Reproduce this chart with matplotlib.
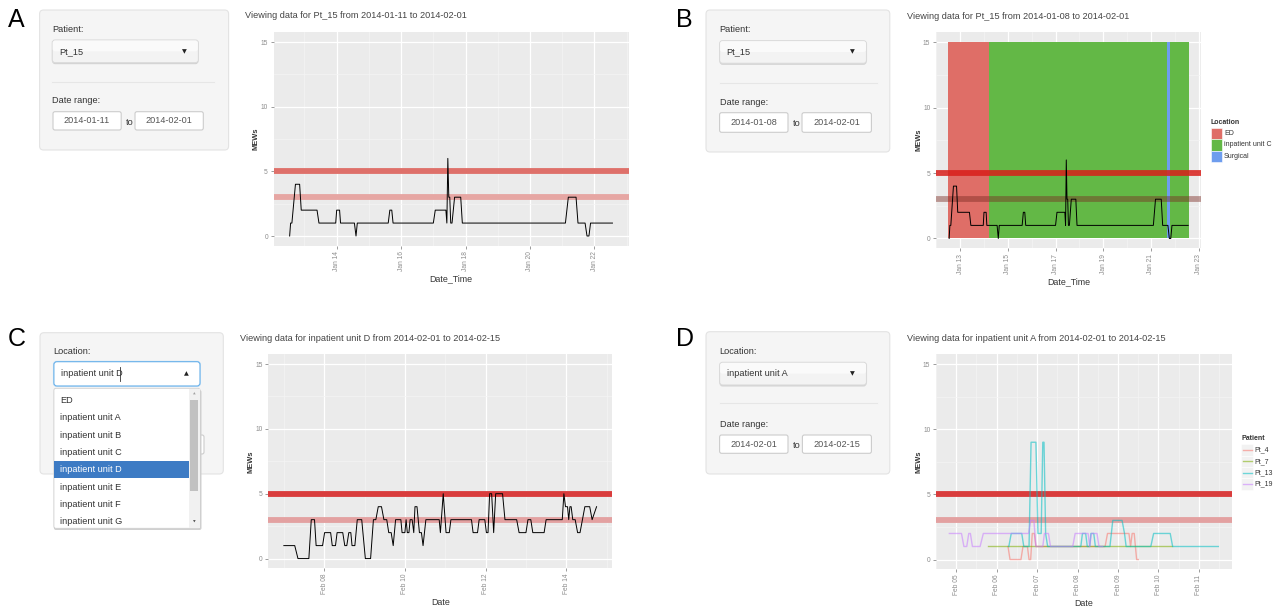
import datetime as dt
import matplotlib
matplotlib.use("Agg")
import matplotlib.pyplot as plt
from matplotlib.patches import FancyBboxPatch, Rectangle

plt.rcParams["font.family"] = ["Liberation Sans", "DejaVu Sans"]

W, H = 1279, 609

# ---- data ----
# Pt_15: time as fractional day of January 2014, MEWs score
pt15_day = [12.54, 12.57, 12.61, 12.72, 12.85, 12.90, 13.39, 13.45, 13.97, 14.00,
            14.09, 14.12, 14.55, 14.60, 14.64, 15.60, 15.65, 15.71, 15.75, 17.00,
            17.06, 17.39, 17.42, 17.45, 17.48, 17.51, 17.54, 17.58, 17.66, 17.85,
            17.90, 21.10, 21.19, 21.43, 21.49, 21.71, 21.77, 21.83, 21.88, 22.56]
pt15_mews = [0, 1, 1, 4, 4, 2, 2, 1, 1, 2,
             2, 1, 1, 0, 1, 1, 2, 2, 1, 1,
             2, 2, 1, 6, 3, 3, 1, 1, 3, 3,
             1, 1, 3, 3, 1, 1, 0, 0, 1, 1]

# Pt_15 locations (panel B)
loc_names = ["ED", "inpatient unit C", "Surgical"]
loc_colors = ["#DF6E67", "#63B846", "#6E9DEE"]
stay_loc = ["ED", "inpatient unit C", "Surgical", "inpatient unit C"]
stay_start = [12.49, 14.23, 21.69, 21.80]
stay_end = [14.23, 21.69, 21.80, 22.60]

# inpatient unit D: fractional day of February 2014
unitD_day = [7.00, 7.27, 7.35, 7.62, 7.68, 7.76, 7.80, 7.96, 8.01, 8.16,
             8.20, 8.28, 8.32, 8.46, 8.51, 8.56, 8.61, 8.66, 8.69, 8.76,
             8.82, 8.93, 9.02, 9.15, 9.22, 9.28, 9.34, 9.42, 9.48, 9.55,
             9.60, 9.66, 9.71, 9.77, 9.90, 9.93, 10.00, 10.03, 10.06, 10.10,
             10.13, 10.18, 10.22, 10.25, 10.30, 10.36, 10.41, 10.45, 10.52, 10.85,
             10.88, 10.95, 11.02, 11.10, 11.14, 11.65, 11.69, 11.80, 11.84, 11.98,
             12.02, 12.06, 12.10, 12.15, 12.20, 12.25, 12.42, 12.48, 12.77, 12.83,
             13.00, 13.05, 13.12, 13.17, 13.45, 13.50, 13.90, 13.94, 13.98, 14.03,
             14.06, 14.09, 14.12, 14.16, 14.22, 14.28, 14.34, 14.40, 14.46, 14.58,
             14.64, 14.75]
unitD_mews = [1, 1, 0, 0, 3, 3, 1, 1, 2, 2,
              1, 1, 2, 2, 1, 1, 2, 2, 1, 1,
              3, 3, 0, 0, 3, 3, 4, 4, 3, 3,
              2, 2, 1, 3, 3, 2, 2, 3, 2, 2,
              3, 3, 2, 4, 4, 2, 2, 1, 3, 3,
              2, 5, 2, 2, 3, 3, 2, 2, 3, 3,
              2, 2, 5, 5, 2, 5, 5, 3, 3, 2,
              2, 3, 3, 2, 2, 3, 3, 5, 4, 4,
              3, 4, 4, 3, 3, 2, 2, 3, 4, 4,
              3, 4]

# inpatient unit A patients (February 2014)
pt4_day = [6.28, 6.33, 6.60, 6.65, 6.76, 6.80, 6.84, 6.88, 6.93, 6.97,
           8.68, 8.74, 9.27, 9.31, 9.35, 9.40, 9.46, 9.50]
pt4_mews = [1, 0, 0, 1, 1, 0, 0, 2, 2, 1,
            1, 2, 2, 1, 2, 2, 0, 0]
pt7_day = [5.79, 10.33]
pt7_mews = [1, 1]
pt13_day = [6.30, 6.36, 6.62, 6.67, 6.80, 6.85, 6.97, 7.02, 7.10, 7.14,
            7.17, 7.21, 7.26, 8.08, 8.12, 8.20, 8.24, 8.30, 8.33, 8.40,
            8.44, 8.80, 8.87, 9.10, 9.16, 9.20, 9.81, 9.88, 10.29, 10.35, 11.48]
pt13_mews = [1, 2, 2, 1, 1, 9, 9, 2, 2, 9,
             9, 2, 1, 1, 2, 2, 1, 1, 2, 2,
             1, 1, 3, 3, 2, 1, 1, 2, 2, 1, 1]
pt19_day = [4.83, 5.13, 5.19, 5.26, 5.31, 5.35, 5.40, 5.59, 5.67, 6.79,
            6.84, 6.92, 6.97, 7.14, 7.18, 7.28, 7.33, 7.88, 7.94, 8.26,
            8.30, 8.34, 8.48, 8.53, 8.62]
pt19_mews = [2, 2, 1, 1, 2, 2, 1, 1, 2, 2,
             3, 3, 1, 1, 2, 2, 1, 1, 2, 2,
             1, 2, 2, 1, 1]
patient_names = ["Pt_4", "Pt_7", "Pt_13", "Pt_19"]
patient_colors = ["#F8766D", "#7CAE00", "#00BFC4", "#C77CFF"]

location_choices = ["ED", "inpatient unit A", "inpatient unit B", "inpatient unit C",
                    "inpatient unit D", "inpatient unit E", "inpatient unit F",
                    "inpatient unit G"]

a_ticks = ["Jan 14", "Jan 16", "Jan 18", "Jan 20", "Jan 22"]
b_ticks = ["Jan 13", "Jan 15", "Jan 17", "Jan 19", "Jan 21", "Jan 23"]
c_ticks = ["Feb 08", "Feb 10", "Feb 12", "Feb 14"]
d_ticks = ["Feb 05", "Feb 06", "Feb 07", "Feb 08", "Feb 09", "Feb 10", "Feb 11"]


def to_date(month, day):
    return dt.datetime(2014, month, 1) + dt.timedelta(days=day - 1)


def tick_dates(labels):
    return [dt.datetime.strptime("2014 " + s, "%Y %b %d") for s in labels]


fig = plt.figure(figsize=(W / 100, H / 100), dpi=100)
ui = fig.add_axes([0, 0, 1, 1], zorder=0)
ui.set_xlim(0, W)
ui.set_ylim(H, 0)
ui.axis("off")

TXT = "#333333"


def make_axes(box, month, lo, hi, labels):
    x0, y0, x1, y1 = box
    ax = fig.add_axes([x0 / W, 1 - y1 / H, (x1 - x0) / W, (y1 - y0) / H], zorder=1)
    ax.set_facecolor("#EBEBEB")
    for s in ax.spines.values():
        s.set_visible(False)
    ax.set_yticks([0, 5, 10, 15])
    ax.set_yticks([2.5, 7.5, 12.5], minor=True)
    ticks = tick_dates(labels)
    step = ticks[1] - ticks[0]
    ax.set_xticks(ticks)
    ax.set_xticklabels(labels, rotation=90, va="top", ha="center")
    ax.set_xticks([t - step / 2 for t in ticks] + [ticks[-1] + step / 2], minor=True)
    span = hi - lo
    ax.set_xlim(to_date(month, lo - 0.05 * span), to_date(month, hi + 0.05 * span))
    ax.set_ylim(-0.75, 15.75)
    ax.grid(which="major", color="white", lw=0.9)
    ax.grid(which="minor", color="#F4F4F4", lw=0.5)
    ax.set_axisbelow(True)
    ax.tick_params(which="major", length=2.5, width=0.6, color="#8C8C8C",
                   labelsize=4.8, labelcolor="#8C8C8C", pad=1.5)
    ax.tick_params(which="minor", length=0)
    return ax


def bands(ax, c5, c3, a5=1.0, a3=1.0):
    ax.axhline(5, color=c5, lw=4.2, alpha=a5, zorder=2)
    ax.axhline(3, color=c3, lw=4.2, alpha=a3, zorder=2)


def labels(title, tx, ty, xlab, xx, xy, yx, yy):
    ui.text(tx, ty, title, fontsize=6.6, color="#444444", ha="left", va="center")
    ui.text(xx, xy, xlab, fontsize=6.4, color=TXT, ha="center", va="center")
    ui.text(yx, yy, "MEWs", fontsize=5.4, color=TXT, ha="center", va="center",
            rotation=90, weight="bold")


# ---- UI widgets ----
def rbox(x0, y0, x1, y1, fc, ec, r=3, lw=0.8, z=1):
    ui.add_patch(FancyBboxPatch((x0, y0), x1 - x0, y1 - y0,
                                boxstyle=f"round,pad=0,rounding_size={r}",
                                fc=fc, ec=ec, lw=lw, zorder=z))


def select(x0, y0, x1, y1, text, arrow_x, up=False, focused=False, z=2):
    if focused:
        rbox(x0 - 1, y0 - 1, x1 + 1, y1 + 1, "#D6E8F7", "none", r=4, z=z)
        rbox(x0, y0, x1, y1, "white", "#66AFE9", r=3, z=z)
    else:
        rbox(x0, y0 + 1.5, x1, y1 + 1.5, "#D2D2D2", "none", r=3, z=z)
        rbox(x0, y0, x1, y1, "#F3F3F3", "#DADADA", r=3, z=z)
        rbox(x0 + 0.5, y0 + 0.5, x1 - 0.5, (y0 + y1) / 2, "#FAFAFA", "none", r=2.5, z=z)
    yc = (y0 + y1) / 2
    ui.text(x0 + 7, yc, text, fontsize=6.6, color=TXT, ha="left", va="center", zorder=z + 1)
    ui.text(arrow_x, yc, "\u25B2" if up else "\u25BC", fontsize=4.5, color="#222222",
            ha="center", va="center", zorder=z + 1, family="DejaVu Sans")


def datebox(x0, y0, x1, y1, text, z=2):
    rbox(x0, y0, x1, y1, "white", "#CCCCCC", r=2, z=z)
    ui.text((x0 + x1) / 2, (y0 + y1) / 2, text, fontsize=6.6, color="#555555",
            ha="center", va="center", zorder=z + 1)


def sidebar(x0, y0, x1, y1):
    rbox(x0, y0, x1, y1, "#F5F5F5", "#E3E3E3", r=4, z=1)


def panel_letter(x, y, s):
    ui.text(x, y, s, fontsize=18, color="black", ha="left", va="center")


def label(x, y, s, z=3):
    ui.text(x, y, s, fontsize=6.6, color=TXT, ha="left", va="center", zorder=z)


# Panel A
panel_letter(8, 20, "A")
sidebar(39.6, 10, 228.6, 150)
label(52.2, 29.3, "Patient:")
select(52.2, 40, 198.4, 62.7, "Pt_15", 184.5)
ui.plot([52, 214], [81.7, 81.7], color="#E6E6E6", lw=0.8, zorder=2)
label(52.2, 100.7, "Date range:")
datebox(53, 111.7, 121.2, 130, "2014-01-11")
label(125.5, 122.5, "to")
datebox(135, 111.7, 203.3, 130, "2014-02-01")

axA = make_axes((273.5, 32.3, 628.6, 245.7), 1, pt15_day[0], pt15_day[-1], a_ticks)
bands(axA, "#DE706A", "#E6A6A3")
axA.plot([to_date(1, d) for d in pt15_day], pt15_mews, color="black", lw=0.7, zorder=3)
labels("Viewing data for Pt_15 from 2014-01-11 to 2014-02-01", 245, 16,
       "Date_Time", 451, 278.5, 256, 139)

# Panel B
panel_letter(676, 20, "B")
sidebar(706, 10, 889.8, 152)
label(719.6, 30, "Patient:")
select(719.6, 40.7, 866.5, 63.3, "Pt_15", 852.7)
ui.plot([720, 876.7], [82.7, 82.7], color="#E6E6E6", lw=0.8, zorder=2)
label(719.6, 102.3, "Date range:")
datebox(719.6, 112.7, 788, 132.3, "2014-01-08")
label(792.5, 124, "to")
datebox(802, 112.7, 871.4, 132.3, "2014-02-01")

axB = make_axes((935.9, 32.3, 1201.2, 248.3), 1, min(stay_start), max(stay_end), b_ticks)
for loc, s, e in zip(stay_loc, stay_start, stay_end):
    col = loc_colors[loc_names.index(loc)]
    axB.fill_between([to_date(1, s), to_date(1, e)], 0, 15, color=col, lw=0, zorder=1)
bands(axB, "#D81E1A", "#7A2A22", a5=0.85, a3=0.45)
axB.plot([to_date(1, d) for d in pt15_day], pt15_mews, color="black", lw=0.7, zorder=3)
labels("Viewing data for Pt_15 from 2014-01-08 to 2014-02-01", 907.3, 16.7,
       "Date_Time", 1068.5, 281.7, 918.8, 140)
ui.text(1210.6, 122.7, "Location", fontsize=5, weight="bold", color=TXT, va="center")
for i, (n, c) in enumerate(zip(loc_names, loc_colors)):
    ui.add_patch(Rectangle((1210.6, 127.7 + i * 11.5), 11.4, 11.5, fc=c, ec="white", lw=0.4))
    ui.text(1224, 133.4 + i * 11.5, n, fontsize=5, color=TXT, va="center")

# Panel C
panel_letter(8, 339, "C")
sidebar(40, 332.7, 223.3, 474)
label(53, 351.7, "Location:")
datebox(135, 435, 204, 454, "2014-02-15", z=2)
select(53.9, 361.7, 200, 386, "inpatient unit D", 186.5, up=True, focused=True, z=4)
ui.plot([120.3, 120.3], [367, 381], color=TXT, lw=0.6, zorder=6)
rbox(53.9, 390, 201.5, 530, "#D0D0D0", "none", r=2, z=4)
rbox(53.9, 388.3, 200, 528.3, "white", "#CFCFCF", r=2, lw=0.6, z=5)
row_h = 17.37
for i, name in enumerate(location_choices):
    yc = 400.3 + i * row_h
    col = TXT
    if name == "inpatient unit D":
        ui.add_patch(Rectangle((54.2, yc - row_h / 2), 134.4, row_h, fc="#3D7BC4", ec="none", zorder=6))
        col = "white"
    ui.text(60.4, yc, name, fontsize=6.6, color=col, ha="left", va="center", zorder=7)
ui.add_patch(Rectangle((188.6, 388.8), 11, 139, fc="#F1F1F1", ec="none", zorder=6))
ui.add_patch(Rectangle((190.2, 400), 7.8, 90.7, fc="#C1C1C1", ec="none", zorder=7))
ui.text(194, 393.5, "\u25B2", fontsize=2.5, color="#A0A0A0", ha="center", va="center", zorder=7, family="DejaVu Sans")
ui.text(194, 522, "\u25BC", fontsize=2.5, color="#505050", ha="center", va="center", zorder=7, family="DejaVu Sans")

axC = make_axes((268.2, 354.3, 612.2, 568.3), 2, unitD_day[0], unitD_day[-1], c_ticks)
bands(axC, "#D93C3C", "#E3A1A1")
axC.plot([to_date(2, d) for d in unitD_day], unitD_mews, color="black", lw=0.7, zorder=3)
labels("Viewing data for inpatient unit D from 2014-02-01 to 2014-02-15", 240, 338.3,
       "Date", 440.2, 602.7, 251, 461.3)

# Panel D
panel_letter(676, 339, "D")
sidebar(706, 331.7, 889.8, 474)
label(719.6, 351.7, "Location:")
select(719.6, 362.3, 866.5, 385, "inpatient unit A", 852.7)
ui.plot([720, 876.7], [402.7, 402.7], color="#E6E6E6", lw=0.8, zorder=2)
label(719.6, 424.3, "Date range:")
datebox(719.6, 435, 788, 453.3, "2014-02-01")
label(792.5, 446, "to")
datebox(802.4, 435, 871.4, 453.3, "2014-02-15")

series = [(pt4_day, pt4_mews), (pt7_day, pt7_mews), (pt13_day, pt13_mews), (pt19_day, pt19_mews)]
all_days = [d for s in series for d in s[0]]
axD = make_axes((935.9, 354.3, 1231.8, 569.3), 2, min(all_days), max(all_days), d_ticks)
bands(axD, "#D93C3C", "#E3A1A1")
for (days, vals), c in zip(series, patient_colors):
    axD.plot([to_date(2, d) for d in days], vals, color=c, lw=1.0, alpha=0.55, zorder=3)
labels("Viewing data for inpatient unit A from 2014-02-01 to 2014-02-15", 907.3, 338.3,
       "Date", 1083.8, 603.3, 918.8, 461.8)
ui.text(1241.2, 438.3, "Patient", fontsize=5, weight="bold", color=TXT, va="center")
for i, (n, c) in enumerate(zip(patient_names, patient_colors)):
    yc = 450 + i * 11.3
    ui.add_patch(Rectangle((1241.2, yc - 5.65), 11.3, 11.3, fc="#F2F2F2", ec="white", lw=0.4))
    ui.plot([1242.5, 1251.5], [yc, yc], color=c, lw=1.0, alpha=0.55)
    ui.text(1254.3, yc, n, fontsize=5, color=TXT, va="center")

fig.savefig("out.png", dpi=100)
